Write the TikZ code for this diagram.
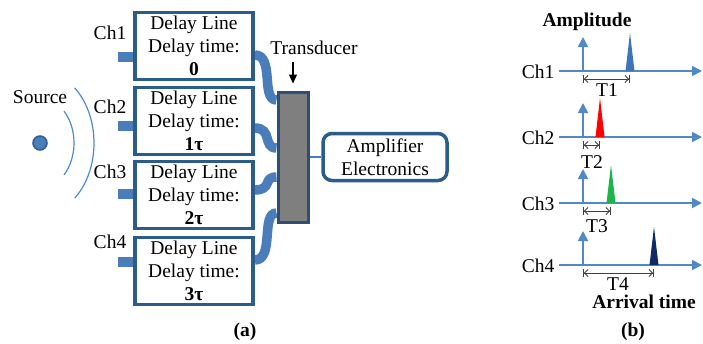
\documentclass[tikz,border=0pt]{standalone}
\usepackage{fontspec}
\setmainfont{LiberationSerif}[Extension=.ttf, UprightFont=*-Regular, BoldFont=*-Bold, ItalicFont=*-Italic, BoldItalicFont=*-BoldItalic]
\usetikzlibrary{arrows.meta,backgrounds}
\definecolor{frameblue}{HTML}{2B5C8A}
\definecolor{cableblue}{HTML}{4A7DBA}
\definecolor{axisblue}{HTML}{5089C8}
\definecolor{dimgray}{HTML}{404040}
\definecolor{tdgray}{HTML}{7F7F7F}
\definecolor{tdframe}{HTML}{2E4F73}
\definecolor{pulseblue}{HTML}{3E74B8}
\definecolor{pulsered}{HTML}{FF0000}
\definecolor{pulsegreen}{HTML}{1DB44A}
\definecolor{pulsenavy}{HTML}{0F2A66}
\begin{document}
\begin{tikzpicture}[x=1pt,y=-1pt,
  every node/.style={font=\rmfamily\fontsize{19.5}{23}\selectfont, inner sep=0pt},
  bold/.style={font=\rmfamily\fontsize{19.5}{23}\selectfont\bfseries},
  delaybox/.style={draw=frameblue, line width=3.5pt, fill=white,
    minimum width=118pt, minimum height=67pt, align=center},
  ampbox/.style={draw=frameblue, line width=3.5pt, fill=white, rounded corners=9pt,
    minimum width=124pt, minimum height=47pt, align=center},
  tdbox/.style={draw=tdframe, line width=3pt, fill=tdgray,
    minimum width=30pt, minimum height=130pt},
  cable/.style={draw=cableblue, line width=9.5pt},
  axis/.style={draw=axisblue, line width=1.8pt, -{Triangle[length=10pt,width=10pt]}},
  dimline/.style={draw=dimgray, line width=0.9pt,
    {Bar[width=8pt]Straight Barb[length=3.5pt,width=7pt]}-{Straight Barb[length=3.5pt,width=7pt]Bar[width=8pt]}},
  wave/.style={draw=axisblue, line width=1.2pt}
]
\useasboundingbox (0,0) rectangle (703,343);

% ---------- (a): delay-line array ----------
\node (src) at (40,97) {Source};
\node[circle, fill=cableblue, draw=frameblue, line width=1.5pt, minimum size=14pt] (dot) at (40,143) {};
\draw[wave] (dot.center) ++(-45:34pt and 45pt) arc[start angle=-45, end angle=45, x radius=34pt, y radius=45pt];
\draw[wave] (dot.center) ++(-50:54pt and 72pt) arc[start angle=-50, end angle=50, x radius=54pt, y radius=72pt];

\node (ch1) at (110,33) {Ch1};
\node (ch2) at (110,107) {Ch2};
\node (ch3) at (110,172) {Ch3};
\node (ch4) at (110,242) {Ch4};

\node[delaybox] (d1) at (194,46) {Delay Line\\Delay time:\\\textbf{0}};
\node[delaybox] (d2) at (194,121) {Delay Line\\Delay time:\\\textbf{1τ}};
\node[delaybox] (d3) at (194,195) {Delay Line\\Delay time:\\\textbf{2τ}};
\node[delaybox] (d4) at (194,271) {Delay Line\\Delay time:\\\textbf{3τ}};

\node[tdbox] (td) at (293,157) {};
\node (tdl) at (314,48) {Transducer};
\coordinate (tdarr) at (293,62);
\draw[line width=1.2pt, -{Triangle[length=9pt,width=8pt]}] (tdarr) -- ([yshift=7pt]td.north);

\node[ampbox] (amp) at (385,157) {Amplifier\\Electronics};
\draw[cableblue, line width=1.2pt] (td.east) -- (amp.west);

\begin{pgfonlayer}{background}
  % input stubs
  \fill[cableblue] (118,52) rectangle (136,62);
  \fill[cableblue] (118,121) rectangle (136,131);
  \fill[cableblue] (118,189) rectangle (136,199);
  \fill[cableblue] (118,257) rectangle (136,267);
  % cables to the transducer
  \draw[cable] ([yshift=-9pt]d1.east) .. controls +(20,0) and +(-16,0) .. ([yshift=57pt]td.west);
  \draw[cable] ([yshift=-7pt]d2.east) .. controls +(18,0) and +(-14,0) .. ([yshift=9pt]td.west);
  \draw[cable] ([yshift=5pt]d3.east) .. controls +(18,0) and +(-14,0) .. ([yshift=-20pt]td.west);
  \draw[cable] ([yshift=11pt]d4.east) .. controls +(20,0) and +(-16,0) .. ([yshift=-56pt]td.west);
\end{pgfonlayer}

\node[bold] (capa) at (245,332) {(a)};

% ---------- (b): arrival times ----------
\node[bold] (amplab) at (587,22) {Amplitude};
\node[bold] (arrlab) at (644,302) {Arrival time};
\node[bold] (capb) at (633,332) {(b)};

\coordinate (o1) at (583,71);  \coordinate (p1) at (630,71);
\coordinate (o2) at (583,137); \coordinate (p2) at (600,137);
\coordinate (o3) at (583,203); \coordinate (p3) at (611,203);
\coordinate (o4) at (583,265); \coordinate (p4) at (654,265);

\node (k1) at (538,72) {Ch1};
\node (k2) at (538,138) {Ch2};
\node (k3) at (538,204) {Ch3};
\node (k4) at (538,266) {Ch4};

\foreach \i in {1,2,3,4} {
  \draw[axis] ([xshift=-24pt]o\i) -- ([xshift=119pt]o\i);
  \draw[axis] (o\i) -- ([yshift=34pt]o\i);
}

\fill[pulseblue]  ([xshift=-4.5pt]p1) -- ([yshift=38pt]p1) -- ([xshift=4.5pt]p1) -- cycle;
\fill[pulsered]   ([xshift=-4.5pt]p2) -- ([yshift=39pt]p2) -- ([xshift=4.5pt]p2) -- cycle;
\fill[pulsegreen] ([xshift=-4.5pt]p3) -- ([yshift=38pt]p3) -- ([xshift=4.5pt]p3) -- cycle;
\fill[pulsenavy]  ([xshift=-4.5pt]p4) -- ([yshift=38pt]p4) -- ([xshift=4.5pt]p4) -- cycle;

\foreach \i in {1,2,3,4} {
  \draw[dimline] ([yshift=-8pt]o\i) -- ([yshift=-8pt]p\i);
}

\node (t1) at (607,90) {T1};
\node (t2) at (592,162) {T2};
\node (t3) at (597,226) {T3};
\node (t4) at (618,284) {T4};
\end{tikzpicture}
\end{document}
